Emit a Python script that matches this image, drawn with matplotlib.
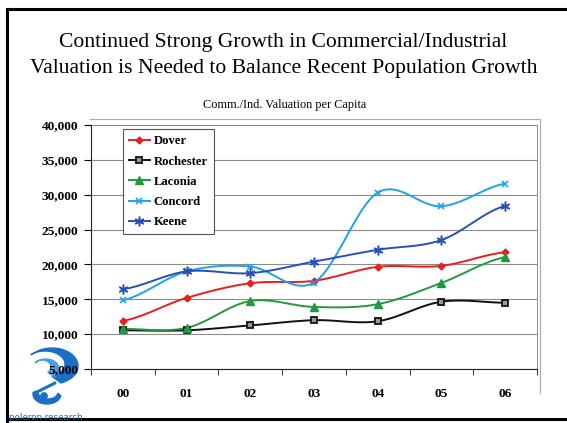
import numpy as np
import matplotlib.pyplot as plt
from matplotlib.patches import Polygon, Circle
from matplotlib.lines import Line2D

years = ['00', '01', '02', '03', '04', '05', '06']
dover = [11900, 15200, 17300, 17650, 19650, 19800, 21750]
rochester = [10550, 10550, 11250, 12000, 11850, 14650, 14500]
laconia = [10750, 10900, 14750, 13900, 14300, 17350, 21050]
concord = [14850, 19000, 19700, 17400, 30300, 28350, 31600]
keene = [16450, 19000, 18750, 20400, 22100, 23500, 28400]

names = ['Dover', 'Rochester', 'Laconia', 'Concord', 'Keene']
colors = ['#ee1c1c', '#111111', '#1f9a3c', '#1ea3e6', '#2a4fb8']
markers = ['D', 's', '^', 'x', (6, 2, 0)]


def smooth(y, n=20):
    # excel-like smoothed line (bezier through the points)
    x = np.arange(len(y), dtype=float)
    y = np.asarray(y, dtype=float)
    px = np.concatenate([[2 * x[0] - x[1]], x, [2 * x[-1] - x[-2]]])
    py = np.concatenate([[y[0]], y, [y[-1]]])
    xs, ys = [], []
    t = np.linspace(0, 1, n)
    for i in range(1, len(px) - 2):
        for arr, out in ((px, xs), (py, ys)):
            p0, p1, p2, p3 = arr[i - 1], arr[i], arr[i + 1], arr[i + 2]
            c1 = p1 + (p2 - p0) / 6
            c2 = p2 - (p3 - p1) / 6
            out.extend((1 - t) ** 3 * p1 + 3 * (1 - t) ** 2 * t * c1
                       + 3 * (1 - t) * t ** 2 * c2 + t ** 3 * p2)
    return np.array(xs), np.array(ys)


def arc(cx, cy, rx, ry, a1, a2, n=40):
    a = np.radians(np.linspace(a1, a2, n))
    return np.column_stack([cx + rx * np.cos(a), cy + ry * np.sin(a)])


plt.rcParams['font.family'] = 'Liberation Serif'
fig = plt.figure(figsize=(5.67, 4.23), dpi=100)

# slide frame
fig.add_artist(Line2D([7 / 567, 7 / 567], [0.005, 1 - 9 / 423], color='black', lw=2.2))
fig.add_artist(Line2D([7 / 567, 1], [1 - 9 / 423, 1 - 9 / 423], color='black', lw=2.2))
fig.add_artist(Line2D([7 / 567, 1], [4 / 423, 4 / 423], color='black', lw=2.2))

fig.text(0.5, 1 - 42 / 423, 'Continued Strong Growth in Commercial/Industrial',
         ha='center', va='center', fontsize=15.6)
fig.text(0.5, 1 - 68 / 423, 'Valuation is Needed to Balance Recent Population Growth',
         ha='center', va='center', fontsize=15.6)
fig.text(285 / 567, 1 - 105 / 423, 'Comm./Ind. Valuation per Capita',
         ha='center', va='center', fontsize=8.8)

# chart area border (right/top only visible)
fig.add_artist(Line2D([90 / 567, 540 / 567, 540 / 567], [1 - 119 / 423, 1 - 119 / 423, 1 - 393 / 423],
                      color='#aaaaaa', lw=0.8))

ax = fig.add_axes([91 / 567, 1 - 369 / 423, 446 / 567, 244 / 423])
for name, vals, c, m in zip(names, [dover, rochester, laconia, concord, keene], colors, markers):
    sx, sy = smooth(vals)
    ax.plot(sx, sy, color=c, lw=1.4, zorder=3)
    kw = dict(ms=5, mew=1.2)
    if m == 's':
        kw = dict(ms=5, mfc='#999999', mec=c, mew=1.3)
    elif m == 'D':
        kw = dict(ms=3.5)
    elif m == '^':
        kw = dict(ms=5.5)
    elif m != 'x':
        kw = dict(ms=7, mew=1.1)
    ax.plot(range(len(vals)), vals, linestyle='none', marker=m, color=c, zorder=4, **kw)
    ax.plot([], [], color=c, lw=1.4, marker=m, label=name, **kw)

ax.set_xlim(-0.5, 6.5)
ax.set_ylim(5000, 40000)
ax.set_yticks(np.arange(5000, 40001, 5000))
ax.set_yticklabels(['{:,}'.format(v) for v in range(5000, 40001, 5000)],
                   fontsize=9.6, fontweight='bold')
ax.set_xticks(np.arange(-0.5, 6.6, 1))
ax.set_xticklabels([])
ax.set_xticks(range(7), minor=True)
ax.set_xticklabels(years, minor=True, fontsize=9.6, fontweight='bold')
ax.tick_params(axis='x', which='minor', length=0, pad=14)
ax.tick_params(axis='x', which='major', length=4, direction='out', color='#444444')
ax.tick_params(axis='y', length=5, direction='out', pad=4)
ax.yaxis.grid(True, color='#8c8c8c', lw=0.8)
ax.set_axisbelow(True)
ax.spines['top'].set_visible(False)
ax.spines['right'].set_color('#999999')
ax.spines['left'].set_color('#222222')
ax.spines['bottom'].set_color('#222222')

leg = ax.legend(loc='upper left', bbox_to_anchor=(32 / 446, 1 - 4 / 244), frameon=True,
                fancybox=False, edgecolor='#555555', framealpha=1, borderaxespad=0,
                prop=dict(family='Liberation Serif', weight='bold', size=9.1),
                handlelength=1.6, handletextpad=0.3, labelspacing=0.65,
                borderpad=0.5)
leg.get_frame().set_linewidth(0.8)

# logo, drawn in pixel coordinates, kept behind the tick labels
lg = fig.add_axes([10 / 567, 1 - 412 / 423, 80 / 567, 75 / 423])
lg.set_zorder(-1)
lg.set_xlim(10, 90)
lg.set_ylim(412, 337)
lg.axis('off')
blue = '#1a6fc7'
top = np.vstack([arc(52, 366, 26, 18, 225, 430), arc(45, 364, 20, 13, 430, 225)])
lg.add_patch(Polygon(top, color=blue))
mid = np.vstack([arc(46, 369, 13, 10, 220, 410), arc(42, 367, 9, 7, 410, 220)])
lg.add_patch(Polygon(mid, color='#4d9de6'))
lg.plot([55, 37], [383, 392], color=blue, lw=2.2, solid_capstyle='round')
low = np.vstack([arc(47, 394, 14, 10, 10, 190), arc(48, 392, 10, 7, 190, 10)])
lg.add_patch(Polygon(low, color=blue))
lg.add_patch(Circle((44, 396), 3.2, color=blue))
fig.text(9 / 567, 1 - 417 / 423, 'poleron research', family='DejaVu Sans',
         fontsize=6.3, color=blue, va='center')

fig.savefig('out.png', dpi=100)
